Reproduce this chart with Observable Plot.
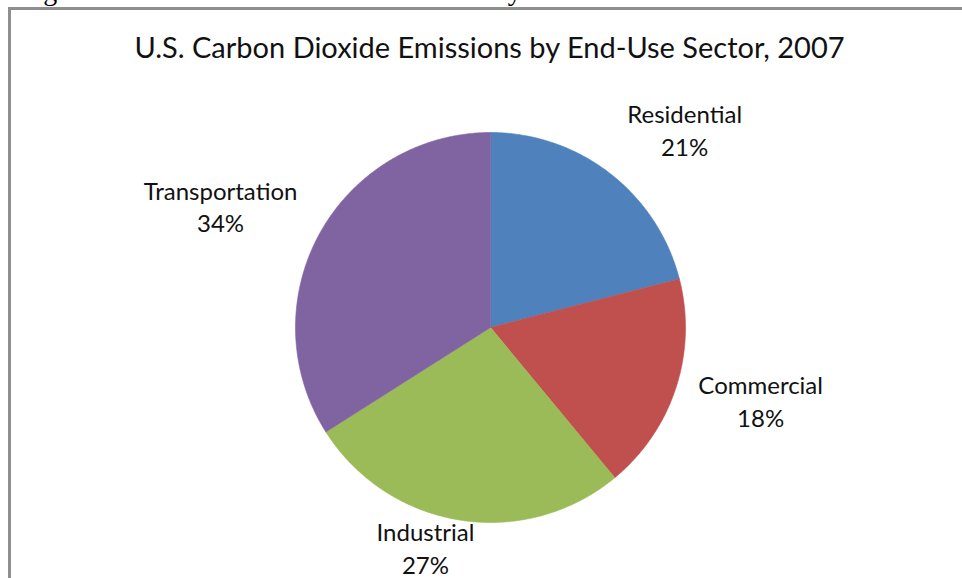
<!DOCTYPE html>
<html>
<head>
<meta charset="utf-8">
<script src="https://cdn.jsdelivr.net/npm/d3@7"></script>
<script src="https://cdn.jsdelivr.net/npm/@observablehq/plot@0.6"></script>
<style>
  html, body { margin: 0; padding: 0; background: #fff; overflow: hidden; }
  #wrap { position: relative; width: 962px; height: 578px; overflow: hidden; background: #fff; }
  #fig { position: absolute; left: 20px; top: -23px; font-family: "Liberation Serif", serif; font-size: 28px; line-height: 28px; color: #000; white-space: nowrap; }
  #frame { position: absolute; left: 8px; top: 7px; width: 970px; height: 600px; border-left: 3px solid #8f8f8f; border-top: 3px solid #8f8f8f; box-sizing: border-box; }
  #chart { position: absolute; left: 0; top: 0; }
</style>
</head>
<body>
<div id="wrap">
  <div id="fig"></div>
  <div id="frame"></div>
  <div id="chart"></div>
</div>
<script>
const sectors = ["Residential", "Commercial", "Industrial", "Transportation"];
const shares = [21, 18, 27, 34];
const colors = ["#4F81BD", "#C0504D", "#9BBB59", "#8064A2"];
const chartTitle = "U.S. Carbon Dioxide Emissions by End-Use Sector, 2007";
const figureCaption = "Figure 3. U.S. Carbon Dioxide Emissions by End-Use Sector";

document.getElementById("fig").textContent = figureCaption;

// layout of the data labels: angle offset (deg) from slice mid-angle, radius factor
const labelLayout = {
  Residential: [7, 1.413],
  Commercial: [-2.3, 1.439],
  Industrial: [7.3, 1.189],
  Transportation: [-5, 1.513]
};

const arcs = d3.pie().sort(null).value(i => shares[i])(d3.range(sectors.length));

const slicePoints = [];
const labels = [];
for (const a of arcs) {
  const s = sectors[a.data];
  slicePoints.push({sector: s, x: 0, y: 0});
  const n = Math.max(2, Math.ceil((a.endAngle - a.startAngle) / (Math.PI / 360)));
  for (let k = 0; k <= n; k++) {
    const t = a.startAngle + (a.endAngle - a.startAngle) * k / n;
    slicePoints.push({sector: s, x: Math.sin(t), y: Math.cos(t)});
  }
  const [off, r] = labelLayout[s];
  const mid = (a.startAngle + a.endAngle) / 2 + off * Math.PI / 180;
  labels.push({sector: s, x: r * Math.sin(mid), y: r * Math.cos(mid), text: `${s}\n${shares[a.data]}%`});
}

const chart = Plot.plot({
  width: 962,
  height: 578,
  margin: 0,
  style: {background: "transparent", fontFamily: "Lato, sans-serif"},
  x: {domain: [-1, 1], range: [295, 685], axis: null},
  y: {domain: [-1, 1], range: [522, 132], axis: null},
  color: {domain: sectors, range: colors},
  marks: [
    Plot.line(slicePoints, {x: "x", y: "y", z: "sector", fill: "sector", stroke: "sector", strokeWidth: 0.6, curve: "linear-closed"}),
    Plot.text(labels, {x: "x", y: "y", dy: -3, text: "text", fontSize: 24, lineHeight: 1.375, fill: "#111", fontFamily: "Lato, sans-serif"}),
    Plot.text([chartTitle], {frameAnchor: "top", dx: 8, dy: 48, text: d => d, fontSize: 29, fill: "#111", lineAnchor: "middle", fontFamily: "Lato, sans-serif"})
  ]
});
document.getElementById("chart").appendChild(chart);
</script>
</body>
</html>
